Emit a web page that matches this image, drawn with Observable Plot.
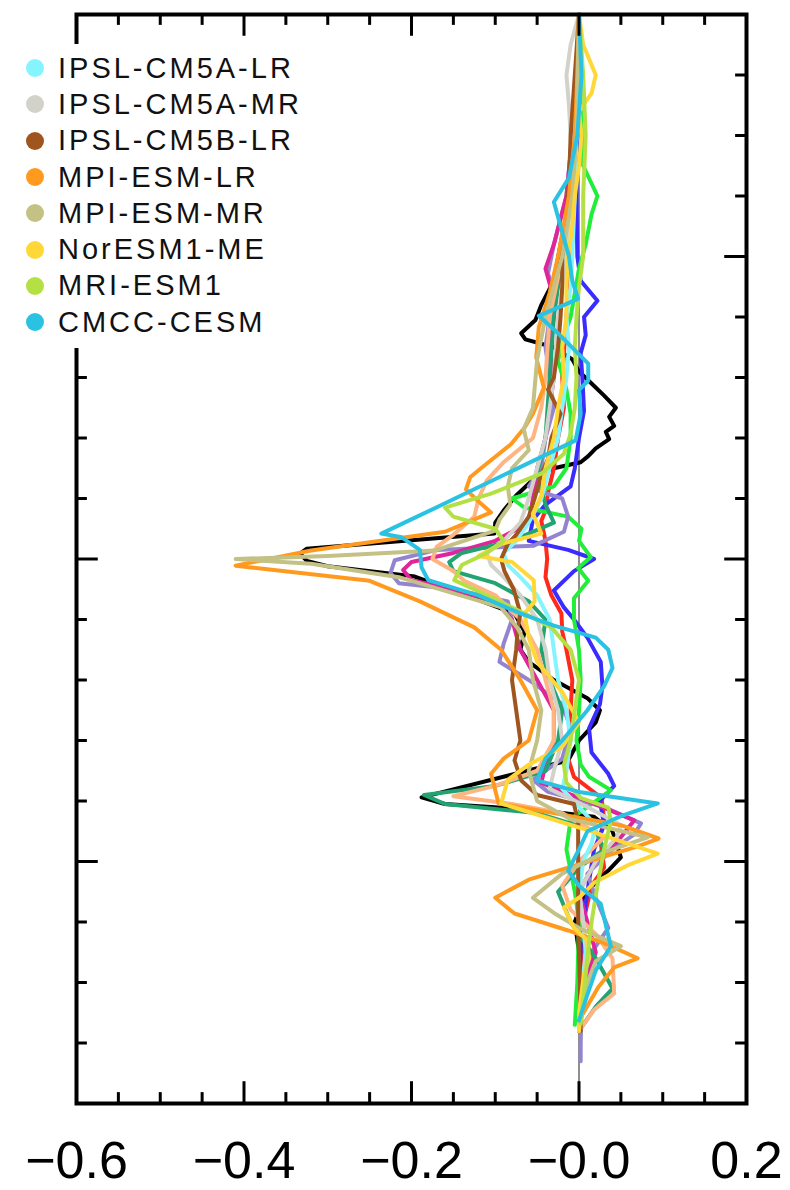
<!DOCTYPE html>
<html><head><meta charset="utf-8">
<script src="https://cdn.jsdelivr.net/npm/d3@7"></script>
<script src="https://cdn.jsdelivr.net/npm/@observablehq/plot@0.6"></script>
<style>
html,body{margin:0;padding:0;background:#fff;}
#wrap{position:relative;width:790px;height:1190px;}
#legend{position:absolute;left:18px;top:44px;padding:6px 10px 8px 8px;background:#fff;font-family:"Liberation Sans",Arial,sans-serif;font-size:29px;letter-spacing:3px;color:#111;}
.row{display:flex;align-items:center;height:36.3px;white-space:nowrap;}
.sw{width:18px;height:18px;border-radius:50%;margin-right:14px;flex:none;}
</style></head><body><div id="wrap"></div>
<script>
// x tick values and labels
const xMajorTicks = [-0.6, -0.4, -0.2, 0, 0.2];
const xTickLabels = ["\u22120.6", "\u22120.4", "\u22120.2", "\u22120.0", "0.2"];
const xMinorTicks = [-0.55, -0.5, -0.45, -0.35, -0.3, -0.25, -0.15, -0.1, -0.05, 0.05, 0.1, 0.15];
// latitude ticks (no labels)
const yMajorTicks = [50, 0, -50];
const yMinorTicks = [80, 70, 60, 40, 30, 20, 10, -10, -20, -30, -40, -60, -70, -80];

// series: [latitude, value]
const black = [[90,0],[80,-0.003],[70,-0.005],[60,-0.01],[52,-0.022],[46,-0.03],[42,-0.045],[39.5,-0.052],[37.3,-0.069],[36.3,-0.064],[35,-0.03],[33,-0.008],[31,0],[29,0.015],[27,0.03],[25,0.044],[23.5,0.036],[22,0.042],[21,0.032],[19.8,0.036],[18.3,0.02],[17,0.011],[16,0.002],[15,-0.03],[14,-0.048],[10.5,-0.075],[8,-0.09],[6,-0.1],[4.2,-0.101],[1.7,-0.325],[0.9,-0.333],[-0.3,-0.325],[-1.2,-0.3],[-2.9,-0.196],[-6.5,-0.125],[-9,-0.077],[-12,-0.065],[-15,-0.07],[-17,-0.06],[-20,-0.03],[-23,0.01],[-25,0.025],[-27,0.02],[-30,0],[-33.3,-0.013],[-39.4,-0.188],[-40.5,-0.16],[-41.5,-0.05],[-42.6,0.018],[-45,0.04],[-49.3,0.05],[-51.5,0.035],[-53,0.022],[-56,0.005],[-60,-0.005],[-65,0],[-70,0.002],[-75,0],[-78,0]];
const red = [[90,0],[75,-0.003],[60,-0.005],[50,-0.01],[40,-0.015],[30,-0.02],[25,-0.018],[20,-0.025],[15,-0.03],[11,-0.037],[8,-0.04],[6.3,-0.045],[3,-0.04],[0,-0.038],[-3,-0.04],[-6,-0.033],[-9,-0.021],[-12,-0.02],[-15,-0.015],[-20,-0.008],[-25,-0.01],[-30,-0.012],[-33,-0.013],[-36,-0.006],[-39.5,0.027],[-43,0.03],[-46,0.025],[-51,0.03],[-54,0.015],[-60,0.005],[-66,0.003],[-72,0.002],[-78,0]];
const blue = [[90,0],[80,0],[70,-0.002],[60,-0.003],[50,-0.002],[46,0.002],[42.7,0.022],[40,0.006],[37,0.008],[34,0.002],[30,0.004],[24.5,0.006],[20,0],[15,-0.005],[12,-0.01],[9,-0.04],[6.5,-0.055],[3,-0.06],[1.5,-0.013],[0,0.018],[-2,-0.006],[-5.2,-0.03],[-8,-0.018],[-10,-0.006],[-13,0.01],[-17,0.026],[-21,0.028],[-24,0.025],[-28,0.012],[-32,0.015],[-35.5,0.035],[-37.5,0.042],[-40,0.025],[-44,0.03],[-48,0.018],[-55,0.01],[-62,0.003],[-70,0],[-78,0]];
const green = [[90,0],[75,0.002],[65,0.005],[60,0.022],[57,0.015],[52,0.008],[48,0],[44,-0.005],[40,-0.01],[36,-0.02],[32.8,-0.025],[28,-0.015],[24,-0.01],[20,-0.01],[15,-0.015],[12,-0.03],[10,-0.08],[8.5,-0.065],[7,-0.013],[5,0.003],[3,0],[0.3,0.014],[-1.5,-0.001],[-3.6,0.011],[-6.5,-0.006],[-10,-0.006],[-15,0],[-20,0.002],[-25,0],[-30,-0.003],[-34,0.002],[-36,0.012],[-38.2,0.038],[-40,0.02],[-43,-0.01],[-48,-0.015],[-55,-0.005],[-60,0],[-65,-0.001],[-70,-0.002],[-77,-0.005]];
const purple = [[90,0],[80,-0.003],[70,-0.008],[60,-0.015],[52,-0.03],[47.2,-0.037],[44,-0.03],[40,-0.035],[35,-0.04],[30,-0.035],[25,-0.03],[20,-0.04],[15,-0.045],[12,-0.06],[11,-0.043],[10,-0.02],[7,-0.013],[4.5,-0.018],[2.2,-0.054],[1.5,-0.17],[-0.2,-0.22],[-2.3,-0.225],[-4,-0.215],[-5,-0.15],[-7,-0.085],[-10,-0.08],[-14,-0.09],[-17,-0.095],[-20,-0.06],[-24,-0.02],[-28,-0.01],[-33,-0.02],[-36.5,-0.055],[-38.5,-0.037],[-41,0.03],[-43.7,0.074],[-45.5,0.066],[-48,0.04],[-52,0.01],[-56,0.02],[-61,0.035],[-65,0.015],[-70,0.005],[-75,0.003],[-80,0.002],[-83,0.002]];
const magenta = [[90,0],[80,-0.003],[70,-0.008],[60,-0.015],[52,-0.03],[48,-0.04],[44,-0.032],[40,-0.03],[35,-0.035],[30,-0.03],[25,-0.035],[20,-0.04],[15,-0.05],[10,-0.055],[6,-0.06],[3,-0.1],[1,-0.15],[-0.5,-0.2],[-1.8,-0.21],[-3.5,-0.2],[-5,-0.15],[-7,-0.1],[-10,-0.08],[-15,-0.07],[-20,-0.05],[-25,-0.03],[-30,-0.03],[-34,-0.04],[-37,-0.045],[-40,0.01],[-43.2,0.066],[-46,0.05],[-50,0.02],[-55,0],[-60,0.01],[-65,0.02],[-70,0.008],[-75,0.002],[-78,0]];
const darkgreen = [[90,0],[75,-0.003],[60,-0.01],[50,-0.02],[40,-0.03],[30,-0.035],[20,-0.04],[14,-0.05],[9,-0.04],[6,-0.03],[3,-0.08],[1,-0.14],[-0.5,-0.155],[-2,-0.15],[-4,-0.1],[-7,-0.06],[-10,-0.04],[-15,-0.045],[-20,-0.035],[-25,-0.02],[-30,-0.025],[-35,-0.04],[-37.5,-0.1],[-39,-0.185],[-40.5,-0.16],[-42,-0.05],[-45,0.02],[-48,0.03],[-51,0],[-55,-0.025],[-60,-0.01],[-66,0.02],[-71,0.04],[-74,0.02],[-78,0]];
const peach = [[90,0],[75,-0.003],[60,-0.01],[50,-0.02],[40,-0.035],[30,-0.04],[25,-0.045],[20,-0.055],[16,-0.09],[13,-0.11],[10,-0.12],[7,-0.125],[4,-0.15],[2,-0.17],[0,-0.175],[-2,-0.15],[-3.6,-0.137],[-6,-0.1],[-10,-0.07],[-15,-0.05],[-20,-0.04],[-25,-0.03],[-30,-0.03],[-35,-0.05],[-37.5,-0.1],[-39.2,-0.15],[-40.5,-0.08],[-42,-0.02],[-46,0.03],[-50,0],[-54,-0.02],[-58,-0.01],[-62,0.02],[-66,0.04],[-71.8,0.042],[-74.5,0.018],[-78,0]];
const ipslCM5ALR = [[90,0],[75,-0.002],[60,-0.005],[50,-0.008],[45,-0.01],[40,-0.015],[35,-0.012],[30,-0.015],[25,-0.02],[20,-0.025],[15,-0.035],[10,-0.045],[6,-0.06],[3,-0.075],[1,-0.09],[-1,-0.085],[-3,-0.07],[-6,-0.05],[-10,-0.035],[-15,-0.03],[-20,-0.025],[-25,-0.015],[-30,-0.01],[-35,-0.015],[-38,-0.02],[-41,0],[-44,0.02],[-47,0.015],[-50,0.005],[-55,0],[-60,0.005],[-65,0.008],[-70,0.004],[-78,0]];
const ipslCM5AMR = [[90,0],[85,-0.01],[80,-0.015],[75,-0.012],[70,-0.01],[65,-0.008],[60,-0.01],[50,-0.015],[40,-0.025],[30,-0.03],[25,-0.035],[20,-0.04],[15,-0.05],[10,-0.06],[6,-0.07],[3,-0.09],[1,-0.11],[-1,-0.105],[-3,-0.09],[-6,-0.07],[-10,-0.05],[-15,-0.04],[-20,-0.035],[-25,-0.025],[-30,-0.02],[-35,-0.03],[-38,-0.035],[-41,0.01],[-44,0.05],[-46,0.045],[-50,0.02],[-55,0],[-60,0.005],[-65,0.01],[-70,0.005],[-78,0]];
const ipslCM5BLR = [[90,0],[80,-0.005],[70,-0.01],[62,-0.012],[58,-0.015],[50,-0.02],[45,-0.02],[40,-0.022],[35,-0.025],[30,-0.03],[28,-0.037],[24,-0.022],[20,-0.033],[16.5,-0.037],[14,-0.045],[10,-0.053],[7,-0.06],[4,-0.075],[2.5,-0.085],[0,-0.093],[-2,-0.089],[-5,-0.078],[-9,-0.07],[-11.3,-0.073],[-15,-0.075],[-20,-0.08],[-25,-0.075],[-30,-0.07],[-33.3,-0.077],[-36.6,-0.069],[-39,-0.05],[-40.5,-0.006],[-43.5,-0.001],[-50,-0.001],[-60,-0.001],[-70,0.001],[-78,0.002]];
const mpiLR = [[90,0],[80,-0.002],[70,-0.005],[60,-0.012],[50,-0.025],[44,-0.035],[38.3,-0.048],[33.3,-0.051],[28.3,-0.042],[24,-0.055],[21.7,-0.065],[19,-0.081],[15,-0.117],[13.5,-0.13],[11.5,-0.135],[9.5,-0.12],[7.7,-0.105],[4.5,-0.16],[1.4,-0.32],[-1.1,-0.41],[-3.6,-0.25],[-7,-0.19],[-11.3,-0.125],[-15,-0.093],[-20,-0.07],[-25,-0.05],[-30,-0.06],[-33,-0.09],[-35.5,-0.105],[-40.4,-0.096],[-42,-0.03],[-44,0.05],[-46.2,0.095],[-47.5,0.07],[-51,-0.013],[-53,-0.06],[-56,-0.1],[-58.6,-0.077],[-61.4,-0.013],[-63.5,0.03],[-66,0.07],[-67.5,0.042],[-70.8,0.023],[-75.8,0.002],[-78,0]];
const mpiMR = [[90,0],[70,-0.003],[60,-0.008],[50,-0.02],[40,-0.04],[33,-0.05],[25,-0.055],[21.5,-0.066],[18,-0.06],[15,-0.08],[12,-0.085],[9,-0.082],[6.5,-0.095],[4.7,-0.1],[1.4,-0.173],[0.5,-0.3],[0,-0.41],[-0.8,-0.32],[-3,-0.215],[-8,-0.093],[-11.5,-0.073],[-15,-0.06],[-20,-0.055],[-25,-0.045],[-30,-0.05],[-35,-0.06],[-40,-0.05],[-43,-0.01],[-46,0.082],[-48.5,0.03],[-52,-0.02],[-56,-0.055],[-58.5,-0.03],[-61,0],[-64,0.05],[-66.5,0.02],[-70,0.01],[-75,0],[-78,0]];
const norESM = [[90,0],[85,0.005],[80,0.02],[77,0.015],[74,0],[70,0.003],[65,0],[60,-0.005],[55,-0.008],[50,-0.013],[45,-0.015],[40,-0.015],[35,-0.02],[30,-0.018],[25,-0.025],[20,-0.03],[15,-0.04],[10.5,-0.045],[7.5,-0.055],[4.2,-0.045],[2.5,-0.093],[0.5,-0.12],[-0.5,-0.08],[-3.5,-0.054],[-7,-0.053],[-9,-0.065],[-13,-0.06],[-17,-0.05],[-22,-0.02],[-27,0],[-31,-0.02],[-34,-0.06],[-36.5,-0.085],[-40.4,-0.093],[-44.5,0.003],[-48.7,0.094],[-50.5,0.06],[-53.5,0.018],[-56,0],[-57.6,-0.018],[-61,-0.006],[-63,0.01],[-66,0.012],[-68.5,0.006],[-75,0],[-78,0]];
const mriESM = [[90,0],[80,0.005],[70,0.008],[60,0.005],[50,0.005],[45,0],[40,-0.003],[35,-0.005],[30,-0.003],[25,-0.005],[20.7,-0.01],[17.4,-0.018],[14.1,-0.045],[10.8,-0.105],[8.5,-0.16],[7,-0.15],[5,-0.1],[3,-0.09],[1,-0.11],[-1,-0.14],[-3.5,-0.149],[-6,-0.11],[-9,-0.065],[-11.3,-0.033],[-15,-0.01],[-20,0],[-25,-0.005],[-30,-0.01],[-34,-0.018],[-37,-0.015],[-39.5,0.002],[-41.1,0.035],[-43.3,0.038],[-48,0.03],[-54,0.022],[-60,0.015],[-64.5,0.011],[-70,0.007],[-76.8,0.002]];
const cmccCESM = [[90,0],[80,0.003],[70,-0.002],[63,-0.012],[59,-0.03],[55,-0.022],[50,-0.012],[46,-0.008],[43,-0.001],[40.2,-0.048],[37.3,-0.025],[32.3,0.011],[29.5,0.011],[27.9,0],[24,0.002],[19.6,-0.004],[14,-0.088],[9,-0.163],[4.2,-0.236],[3.6,-0.212],[1.5,-0.19],[-1.4,-0.188],[-3.5,-0.18],[-6,-0.12],[-9,-0.07],[-11,-0.03],[-13,0.02],[-15,0.035],[-18,0.04],[-21,0.03],[-25,0.01],[-30,-0.02],[-33,-0.04],[-36.6,-0.05],[-38.5,0],[-40.4,0.094],[-42.5,0.05],[-45,0.01],[-48,0],[-51.5,-0.013],[-54,0],[-57,0.026],[-64,0.038],[-68,0.02],[-72,0.01],[-76.3,0]];

const lineNames = ["obs","model-red","model-blue","model-green","model-purple","model-magenta","model-darkgreen","model-peach","IPSL-CM5A-LR","IPSL-CM5A-MR","IPSL-CM5B-LR","MPI-ESM-LR","MPI-ESM-MR","NorESM1-ME","MRI-ESM1","CMCC-CESM"];
const lineColors = ["#000000","#ff2a1a","#3a2cff","#22ee3a","#9484d0","#e0249c","#22a472","#ffb482","#84f4ff","#d2d2ca","#a0541e","#ff9a1e","#c4c184","#ffd838","#b4e044","#2ac2e2"];
const seriesList = [black, red, blue, green, purple, magenta, darkgreen, peach, ipslCM5ALR, ipslCM5AMR, ipslCM5BLR, mpiLR, mpiMR, norESM, mriESM, cmccCESM];

const legendNames = ["IPSL-CM5A-LR","IPSL-CM5A-MR","IPSL-CM5B-LR","MPI-ESM-LR","MPI-ESM-MR","NorESM1-ME","MRI-ESM1","CMCC-CESM"];

const rows = lineNames.flatMap((name, i) => seriesList[i].map(([lat, v]) => ({name, lat, v})));
const colorOf = new Map(lineNames.map((n, i) => [n, lineColors[i]]));
const labelOf = new Map(xMajorTicks.map((t, i) => [t, xTickLabels[i]]));

const tw = 3;
const chart = Plot.plot({
  width: 790, height: 1190,
  marginLeft: 76, marginRight: 44, marginTop: 14, marginBottom: 87,
  x: {domain: [-0.6, 0.2], label: null},
  y: {domain: [-90, 90], axis: null, label: null},
  color: {domain: lineNames, range: lineColors},
  style: {fontFamily: "'Liberation Sans', Arial, sans-serif", background: "white", overflow: "visible"},
  marks: [
    Plot.ruleX([0], {stroke: "#6a6a6a", strokeWidth: 1.5}),
    Plot.line(rows, {x: "v", y: "lat", z: "name", stroke: "name", strokeWidth: 4, strokeLinejoin: "round", strokeLinecap: "round"}),
    Plot.ruleX(xMajorTicks, {x: d => d, y1: -90, y2: -90 + 3.6, strokeWidth: tw}),
    Plot.ruleX(xMajorTicks, {x: d => d, y1: 90, y2: 90 - 3.6, strokeWidth: tw}),
    Plot.ruleX(xMinorTicks, {x: d => d, y1: -90, y2: -90 + 1.8, strokeWidth: tw}),
    Plot.ruleX(xMinorTicks, {x: d => d, y1: 90, y2: 90 - 1.8, strokeWidth: tw}),
    Plot.ruleY(yMajorTicks, {y: d => d, x1: -0.6, x2: -0.6 + 0.026, strokeWidth: tw}),
    Plot.ruleY(yMajorTicks, {y: d => d, x1: 0.2, x2: 0.2 - 0.026, strokeWidth: tw}),
    Plot.ruleY(yMinorTicks, {y: d => d, x1: -0.6, x2: -0.6 + 0.013, strokeWidth: tw}),
    Plot.ruleY(yMinorTicks, {y: d => d, x1: 0.2, x2: 0.2 - 0.013, strokeWidth: tw}),
    Plot.frame({stroke: "black", strokeWidth: 4}),
    Plot.axisX(xMajorTicks, {tickSize: 0, tickPadding: 38, tickFormat: d => labelOf.get(d), fontSize: 52, fill: "black", label: null})
  ]
});

const wrap = document.getElementById("wrap");
wrap.appendChild(chart);
const legend = document.createElement("div");
legend.id = "legend";
for (const name of legendNames) {
  const row = document.createElement("div");
  row.className = "row";
  const sw = document.createElement("span");
  sw.className = "sw";
  sw.style.background = colorOf.get(name);
  const tx = document.createElement("span");
  tx.textContent = name;
  row.appendChild(sw);
  row.appendChild(tx);
  legend.appendChild(row);
}
wrap.appendChild(legend);
</script>
</body></html>
